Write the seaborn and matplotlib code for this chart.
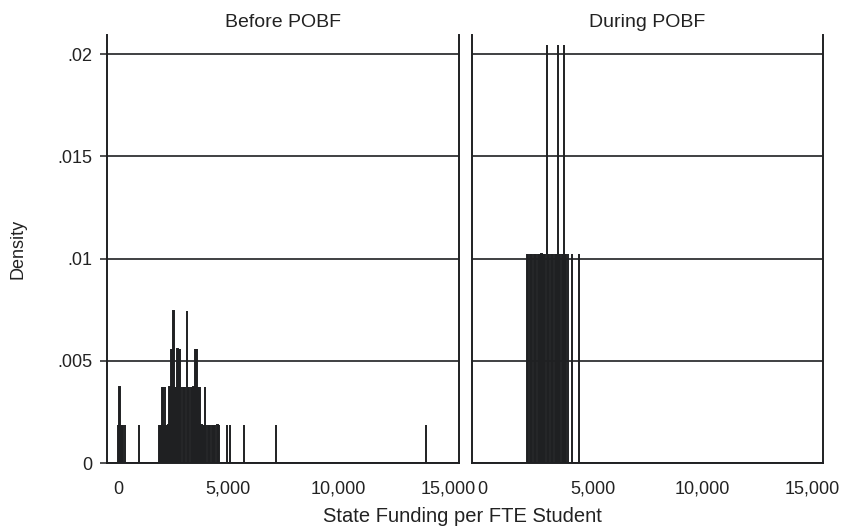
import numpy as np
import pandas as pd
import matplotlib
matplotlib.use("Agg")
import matplotlib.pyplot as plt
import seaborn as sns

# Histogramme der staatlichen Finanzierung pro FTE-Student, vor / waehrend POBF
sns.set_style("white")
plt.rcParams["font.family"] = ["Liberation Sans", "DejaVu Sans"]

DUNKEL = "#1f2022"
TEXT = "#222222"

# ----------------------------------------------------------------------
# Daten: Werte und Anzahl Beobachtungen je Wert
# ----------------------------------------------------------------------
vor_werte = [10, 73, 130, 190, 250, 310, 968,
             1850, 1910, 1965, 2000, 2040, 2073, 2110, 2150, 2195, 2250, 2300, 2345,
             2409, 2465, 2527, 2580, 2640, 2709, 2770, 2832, 2880, 2940, 3000, 3060,
             3136, 3190, 3250, 3310, 3363, 3400, 3436, 3520, 3560, 3600, 3650, 3700,
             3740, 3800, 3860, 3920, 3968, 4020, 4080, 4140, 4200, 4260, 4320, 4380, 4420,
             4527, 4604, 4954, 5104, 5740, 7181, 14012]
vor_anzahl = [1, 2, 1, 1, 1, 1, 1,
              1, 1, 1, 2, 1, 2, 1, 2, 1, 1, 1, 2,
              3, 3, 4, 2, 2, 3, 3, 3, 2, 2, 2, 2,
              4, 2, 2, 2, 2, 1, 2, 3, 3, 3, 2, 2,
              2, 1, 1, 1, 2, 1, 1, 1, 1, 1, 1, 1, 1,
              1, 1, 1, 1, 1, 1, 1]

waehrend_werte = [2020, 2080, 2140, 2200, 2260, 2320, 2380, 2440, 2500, 2560, 2620, 2680,
                  2740, 2800, 2860, 2927, 2980, 3040, 3100, 3160, 3220, 3280, 3340, 3380,
                  3427, 3480, 3540, 3600, 3640, 3682, 3740, 3790, 3881, 4063, 4395]
waehrend_anzahl = [1, 1, 1, 1, 1, 1, 1, 1, 1, 1, 1, 1,
                   1, 1, 1, 2, 1, 1, 1, 1, 1, 1, 1, 1,
                   2, 1, 1, 1, 1, 2, 1, 1, 1, 1, 1]

# Dichte einer einzelnen Beobachtung (Hoehe der niedrigsten Balken)
dichte_eins = {"Before POBF": 0.00186, "During POBF": 0.01022}

panels = {
    "Before POBF": pd.DataFrame({"funding": np.repeat(vor_werte, vor_anzahl)}),
    "During POBF": pd.DataFrame({"funding": np.repeat(waehrend_werte, waehrend_anzahl)}),
}

x_ticks = [0, 5000, 10000, 15000]
x_labels = ["0", "5,000", "10,000", "15,000"]
y_ticks = [0, 0.005, 0.01, 0.015, 0.02]
y_labels = ["0", ".005", ".01", ".015", ".02"]

# ----------------------------------------------------------------------
# Grafik
# ----------------------------------------------------------------------
fig, axes = plt.subplots(1, 2, figsize=(8.43, 5.28), dpi=100, sharey=True)
fig.subplots_adjust(left=0.1273, right=0.9766, bottom=0.1225, top=0.9337, wspace=0.038)

for ax, (titel, df) in zip(axes, panels.items()):
    breite = 1 / (len(df) * dichte_eins[titel])
    sns.histplot(data=df, x="funding", stat="density", binwidth=breite, ax=ax,
                 color=DUNKEL, edgecolor=DUNKEL, linewidth=1.4, alpha=1)
    ax.set_xlim(-480, 15490)
    ax.set_ylim(0, 0.02093)
    ax.set_xticks(x_ticks)
    ax.set_xticklabels(x_labels)
    ax.set_yticks(y_ticks)
    ax.set_yticklabels(y_labels)
    ax.set_xlabel("")
    ax.set_ylabel("")
    ax.set_title(titel, fontsize=14, color=TEXT, pad=6)
    ax.set_axisbelow(True)
    ax.yaxis.grid(True, color=DUNKEL, linewidth=1.2)
    ax.spines["top"].set_visible(False)
    for s in ["left", "right", "bottom"]:
        ax.spines[s].set_color(DUNKEL)
        ax.spines[s].set_linewidth(1.4)
    ax.tick_params(axis="both", direction="out", length=5, width=1.1, color=DUNKEL,
                   labelsize=13, labelcolor=TEXT)
    ax.tick_params(axis="x", pad=7.5)
    ax.tick_params(axis="y", pad=5.5)

axes[0].tick_params(axis="y", left=True)
axes[1].tick_params(axis="y", left=False, labelleft=False)

fig.text(17.5 / 843, 1 - 249 / 528, "Density", rotation=90, ha="center", va="center",
         fontsize=13, color=TEXT)
fig.text(462 / 843, 1 - 522 / 528, "State Funding per FTE Student", ha="center",
         va="baseline", fontsize=14.5, color=TEXT)

plt.savefig("out.png", dpi=100)
